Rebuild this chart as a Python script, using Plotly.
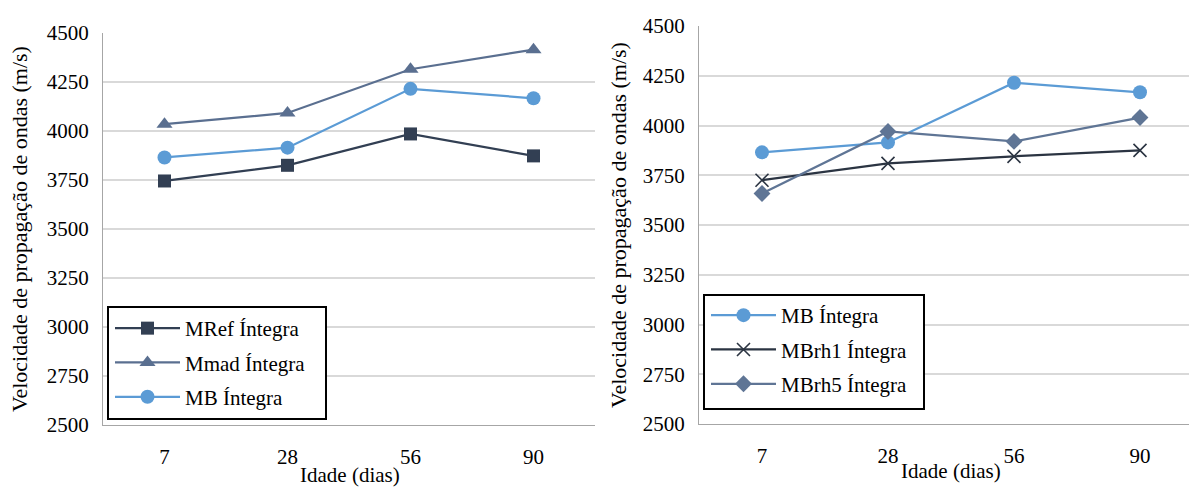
import plotly.graph_objects as go

# Ages (days) and ultrasonic pulse velocity (m/s)
idades = ["7", "28", "56", "90"]

mref_integra = [3745, 3825, 3985, 3873]
mmad_integra = [4035, 4092, 4315, 4415]
mb_integra = [3865, 3915, 4215, 4167]
mbrh1_integra = [3725, 3810, 3845, 3875]
mbrh5_integra = [3658, 3970, 3920, 4040]

y_ticks = [2500, 2750, 3000, 3250, 3500, 3750, 4000, 4250, 4500]
y_title = "Velocidade de propagação de ondas (m/s)"
x_title = "Idade (dias)"

FONT = "Liberation Serif"
W, H = 1189, 488

C_MREF = "#323F53"
C_MMAD = "#5A6F90"
C_MB = "#5B9BD5"
C_RH1 = "#2B3442"
C_RH5 = "#5F7595"

fig = go.Figure()


def add_series(name, values, color, symbol, xa, ya, legend, group, size=13):
    fig.add_trace(go.Scatter(
        x=idades, y=values, name=name, mode="lines+markers",
        line=dict(color=color, width=2.25),
        marker=dict(symbol=symbol, size=size, color=color,
                    line=dict(width=1.6 if symbol == "x-thin" else 0, color=color)),
        xaxis=xa, yaxis=ya, legend=legend, legendgroup=group,
    ))


# Left panel
add_series("MRef Íntegra", mref_integra, C_MREF, "square", "x", "y", "legend", "a")
add_series("Mmad Íntegra", mmad_integra, C_MMAD, "triangle-up", "x", "y", "legend", "b", 14)
add_series("MB Íntegra", mb_integra, C_MB, "circle", "x", "y", "legend", "c", 14)

# Right panel
add_series("MB Íntegra", mb_integra, C_MB, "circle", "x2", "y2", "legend2", "d", 14)
add_series("MBrh1 Íntegra", mbrh1_integra, C_RH1, "x-thin", "x2", "y2", "legend2", "e", 13)
add_series("MBrh5 Íntegra", mbrh5_integra, C_RH5, "diamond", "x2", "y2", "legend2", "f", 13)


def px_x(v):
    return v / W


def px_y(v):
    return 1 - v / H


axis_common = dict(
    type="category", showgrid=False, zeroline=False, showline=True,
    linecolor="#A6A6A6", linewidth=1.3, ticks="", automargin=False,
    tickfont=dict(family=FONT, size=21, color="#000000"),
    ticklabelstandoff=13,
)
yaxis_common = dict(
    range=[2500, 4500], tickvals=y_ticks, showgrid=True, gridcolor="#D9D9D9",
    gridwidth=1.5, zeroline=False, showline=True, linecolor="#A6A6A6",
    linewidth=1.3, ticks="", automargin=False,
    tickfont=dict(family=FONT, size=21, color="#000000"),
    ticklabelstandoff=9,
)

legend_common = dict(
    bgcolor="rgba(255,255,255,0)", borderwidth=0,
    font=dict(family=FONT, size=21, color="#000000"),
    traceorder="grouped", tracegroupgap=4, itemwidth=65,
    xanchor="left", yanchor="top", xref="paper", yref="paper",
)

fig.update_layout(
    width=W, height=H, margin=dict(l=0, r=0, t=0, b=0, autoexpand=False),
    paper_bgcolor="#FFFFFF", plot_bgcolor="#FFFFFF",
    showlegend=True,
    xaxis=dict(domain=[px_x(103), px_x(595)], range=[-0.5, 3.5],
               anchor="y", **axis_common),
    yaxis=dict(domain=[px_y(425), px_y(33)], anchor="x", **yaxis_common),
    xaxis2=dict(domain=[px_x(699), 1.0], range=[-0.5, 3.389],
                anchor="y2", **axis_common),
    yaxis2=dict(domain=[px_y(424), px_y(26)], anchor="x2", **yaxis_common),
    legend=dict(x=px_x(110), y=px_y(308), **legend_common),
    legend2=dict(x=px_x(706), y=px_y(295), **legend_common),
)

# Legend frames (white fill hides the gridlines behind each legend)
for x0, x1, y0, y1 in [(108, 326, 307, 419), (704, 924, 295, 409)]:
    fig.add_shape(type="rect", xref="paper", yref="paper", layer="above",
                  x0=px_x(x0), x1=px_x(x1), y0=px_y(y1), y1=px_y(y0),
                  fillcolor="#FFFFFF", line=dict(color="#000000", width=2))

annotations = [
    dict(text=y_title, x=px_x(20), y=px_y(229), textangle=-90, size=22),
    dict(text=y_title, x=px_x(618), y=px_y(225), textangle=-90, size=22),
    dict(text=x_title, x=px_x(350), y=px_y(475), textangle=0, size=21),
    dict(text=x_title, x=px_x(951), y=px_y(471), textangle=0, size=21),
]
for a in annotations:
    fig.add_annotation(xref="paper", yref="paper", showarrow=False,
                       xanchor="center", yanchor="middle",
                       text=a["text"], x=a["x"], y=a["y"], textangle=a["textangle"],
                       font=dict(family=FONT, size=a["size"], color="#000000"))

fig.write_html("out.html")
